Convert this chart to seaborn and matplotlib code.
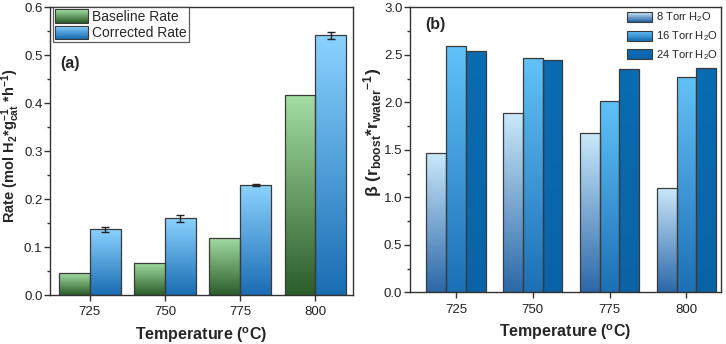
import numpy as np
import pandas as pd
import matplotlib
matplotlib.use("Agg")
import matplotlib.pyplot as plt
import seaborn as sns
from matplotlib.colors import LinearSegmentedColormap
from matplotlib.legend_handler import HandlerBase
from matplotlib.patches import Rectangle

# ---------------- data ----------------
temps = ["725", "750", "775", "800"]
baseline_rate = [0.045, 0.067, 0.119, 0.417]
corrected_rate = [0.137, 0.160, 0.229, 0.541]
corrected_err = [0.005, 0.007, 0.002, 0.008]

torr8 = [1.47, 1.89, 1.68, 1.10]
torr16 = [2.59, 2.47, 2.01, 2.27]
torr24 = [2.54, 2.44, 2.35, 2.36]

series_a = ["Baseline Rate", "Corrected Rate"]
series_b = ["8 Torr H$_2$O", "16 Torr H$_2$O", "24 Torr H$_2$O"]

# gradients (top colour, bottom colour)
grad_a = [("#a3dea3", "#2b5d2b"), ("#8ad2ff", "#1a6db3")]
grad_b = [("#cbe9fb", "#2b68a8"), ("#62c2f8", "#1c70b6"), ("#0b6cb2", "#0a63a6")]

sns.set_theme(style="ticks")
plt.rcParams["font.family"] = ["Liberation Sans", "DejaVu Sans"]
plt.rcParams["mathtext.fontset"] = "custom"
plt.rcParams["mathtext.rm"] = "Liberation Sans"
plt.rcParams["mathtext.it"] = "Liberation Sans:italic"
plt.rcParams["mathtext.bf"] = "Liberation Sans:bold"

fig = plt.figure(figsize=(7.26, 3.44), dpi=100)
axA = fig.add_axes([0.0689, 0.1424, 0.4174, 0.837])
axB = fig.add_axes([0.5647, 0.1500, 0.4284, 0.829])

EDGE = "#3a3a3a"


def gradient_fill(ax, patches, top, bottom):
    cmap = LinearSegmentedColormap.from_list("g", [bottom, top])
    grad = np.linspace(0, 1, 256).reshape(-1, 1)
    for p in patches:
        x, y = p.get_x(), p.get_y()
        w, h = p.get_width(), p.get_height()
        p.set_facecolor("none")
        im = ax.imshow(grad, cmap=cmap, aspect="auto", origin="lower",
                       extent=[x, x + w, y, y + h], zorder=p.get_zorder() - 0.1)
        im.set_clip_path(p)


class GradHandler(HandlerBase):
    def __init__(self, top, bottom, **kw):
        super().__init__(**kw)
        self.top, self.bottom = top, bottom

    def create_artists(self, legend, orig_handle, xdescent, ydescent, width,
                       height, fontsize, trans):
        cmap = LinearSegmentedColormap.from_list("g", [self.bottom, self.top])
        arts = []
        n = 14
        for i in range(n):
            r = Rectangle((-xdescent, -ydescent + height * i / n), width,
                          height / n + 0.05, facecolor=cmap(i / (n - 1)),
                          edgecolor="none", transform=trans)
            arts.append(r)
        arts.append(Rectangle((-xdescent, -ydescent), width, height,
                              facecolor="none", edgecolor=EDGE, lw=0.8,
                              transform=trans))
        return arts


def style_axes(ax):
    for s in ax.spines.values():
        s.set_color("#333333")
        s.set_linewidth(1.0)
    ax.tick_params(axis="both", which="major", direction="out", length=4,
                   width=1.0, color="#333333", labelsize=9.5, labelcolor="#222222")
    ax.tick_params(axis="y", which="major", pad=1.5)
    ax.tick_params(axis="x", which="major", pad=4)
    ax.tick_params(axis="y", which="minor", direction="out", length=2.5,
                   width=1.0, color="#333333")
    ax.tick_params(axis="x", which="minor", bottom=False)


# ---------------- panel (a) ----------------
dfa = pd.DataFrame({
    "Temperature": temps * 2,
    "Rate": baseline_rate + corrected_rate,
    "Series": [series_a[0]] * 4 + [series_a[1]] * 4,
})
sns.barplot(data=dfa, x="Temperature", y="Rate", hue="Series", order=temps,
            hue_order=series_a, ax=axA, errorbar=None, width=0.82,
            edgecolor=EDGE, linewidth=0.9, legend=False)
bars_a = [axA.patches[:4], axA.patches[4:8]]
for grp, (t, b) in zip(bars_a, grad_a):
    gradient_fill(axA, grp, t, b)
xc = [p.get_x() + p.get_width() / 2 for p in bars_a[1]]
axA.errorbar(xc, corrected_rate, yerr=corrected_err, fmt="none",
             ecolor="#222222", elinewidth=1.0, capsize=3, capthick=1.0, zorder=5)
axA.set_xlim(-0.53, 3.5)
axA.set_ylim(0, 0.6)
axA.set_yticks(np.arange(0, 0.61, 0.1))
axA.set_yticks(np.arange(0.05, 0.6, 0.1), minor=True)
axA.set_yticklabels([f"{v:.1f}" for v in np.arange(0, 0.61, 0.1)])
axA.set_xlabel("Temperature ($^\\mathbf{o}$C)", fontsize=11.5, fontweight="bold",
               labelpad=5)
axA.set_ylabel("Rate (mol H$_\\mathbf{2}$*g$_\\mathbf{cat}^\\mathbf{-1}$ *h$^\\mathbf{-1}$)",
               fontsize=10.5, fontweight="bold")
axA.yaxis.set_label_coords(-0.092, 0.517)
style_axes(axA)
axA.text(0.035, 0.805, "(a)", transform=axA.transAxes, fontsize=11.5,
         fontweight="bold", ha="left", va="center")
ha = [Rectangle((0, 0), 1, 1) for _ in series_a]
legA = axA.legend(ha, series_a, loc="upper left", bbox_to_anchor=(0.01, 1.0),
                  handler_map={h: GradHandler(t, b) for h, (t, b) in zip(ha, grad_a)},
                  frameon=True, fancybox=False, edgecolor="#333333",
                  fontsize=10, handlelength=2.4, handleheight=1.1,
                  handletextpad=0.25, borderpad=0.15, labelspacing=0.15,
                  borderaxespad=0.0)
legA.get_frame().set_linewidth(0.9)

# ---------------- panel (b) ----------------
dfb = pd.DataFrame({
    "Temperature": temps * 3,
    "Beta": torr8 + torr16 + torr24,
    "Series": [series_b[0]] * 4 + [series_b[1]] * 4 + [series_b[2]] * 4,
})
sns.barplot(data=dfb, x="Temperature", y="Beta", hue="Series", order=temps,
            hue_order=series_b, ax=axB, errorbar=None, width=0.77,
            edgecolor=EDGE, linewidth=0.9, legend=False)
bars_b = [axB.patches[:4], axB.patches[4:8], axB.patches[8:12]]
for grp, (t, b) in zip(bars_b, grad_b):
    gradient_fill(axB, grp, t, b)
axB.set_xlim(-0.6, 3.45)
axB.set_ylim(0, 3.0)
axB.set_yticks(np.arange(0, 3.01, 0.5))
axB.set_yticks(np.arange(0.25, 3.0, 0.5), minor=True)
axB.set_yticklabels([f"{v:.1f}" for v in np.arange(0, 3.01, 0.5)])
axB.set_xlabel("Temperature ($^\\mathbf{o}$C)", fontsize=11.5, fontweight="bold",
               labelpad=5)
axB.set_ylabel("β (r$_\\mathbf{boost}$*r$_\\mathbf{water}$$^\\mathbf{-1}$)",
               fontsize=12.5, fontweight="bold")
axB.yaxis.set_label_coords(-0.082, 0.56)
style_axes(axB)
axB.text(0.05, 0.94, "(b)", transform=axB.transAxes, fontsize=11.5,
         fontweight="bold", ha="left", va="center")
hb = [Rectangle((0, 0), 1, 1) for _ in series_b]
legB = axB.legend(hb, series_b, loc="upper right", bbox_to_anchor=(1.0, 1.0),
                  handler_map={h: GradHandler(t, b) for h, (t, b) in zip(hb, grad_b)},
                  frameon=False, fontsize=8, handlelength=2.25,
                  handleheight=1.0, handletextpad=0.35, labelspacing=0.45,
                  borderpad=0.2, borderaxespad=0.1)

fig.savefig("out.png", dpi=100)
